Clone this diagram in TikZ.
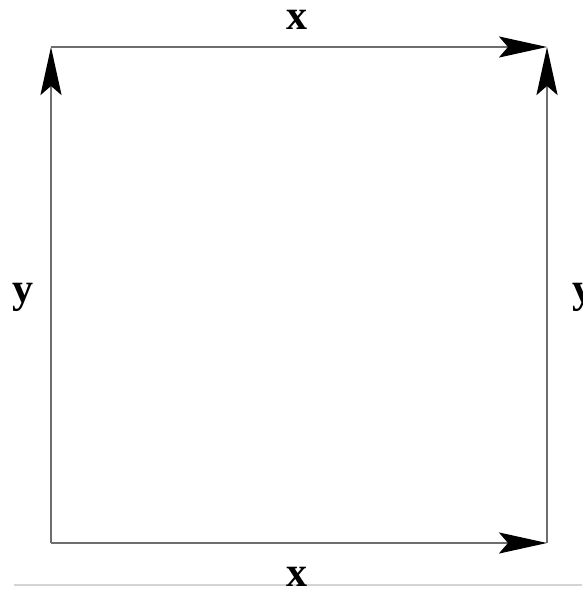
\documentclass[tikz,border=0pt]{standalone}
\usepackage{fontspec}
\setmainfont{Liberation Serif}
\usepackage{tikz}
\usetikzlibrary{arrows.meta}
\definecolor{edgegray}{HTML}{6E6E6E}
\definecolor{rulegray}{HTML}{D4D4D4}
\tikzset{
  side/.style={draw=edgegray, line width=2.6pt, -{Stealth[length=48pt, width=21pt, inset=9pt, black]}},
  lbl/.style={font=\fontsize{42}{48}\selectfont\bfseries, inner sep=0pt, anchor=base}
}

\begin{document}
\begin{tikzpicture}[x=1pt, y=-1pt]
\useasboundingbox (0,0) rectangle (582,591);
\coordinate (bl) at (51,543);
\coordinate (br) at (547,543);
\coordinate (tl) at (51,47);
\coordinate (tr) at (547,47);
\coordinate (rulel) at (14,585);
\coordinate (ruler) at (582,585);
\draw[rulegray, line width=1.8pt] (rulel) -- (ruler);
\draw[side] (bl) -- (tl);
\draw[side] (br) -- (tr);
\draw[side] (tl) -- (tr);
\draw[side] (bl) -- (br);
\node[lbl] (xtop) at (297,30) {x};
\node[lbl] (xbot) at (297,586) {x};
\node[lbl] (yleft) at (23,302) {y};
\node[lbl, anchor=base west] (yright) at (572,302) {y};
\end{tikzpicture}
\end{document}
